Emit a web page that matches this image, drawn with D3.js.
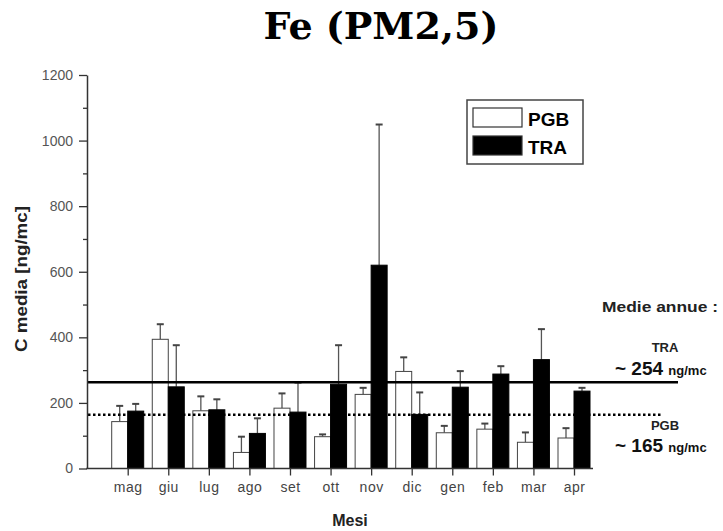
<!DOCTYPE html>
<html>
<head>
<meta charset="utf-8">
<script src="https://cdn.jsdelivr.net/npm/d3@7.9.0/dist/d3.min.js"></script>
<style>
  body { margin: 0; background: #fff; }
  svg { display: block; font-family: "Liberation Sans", Arial, sans-serif; }
</style>
</head>
<body>
<svg id="chart" width="723" height="531"></svg>
<script>
// months and mean concentrations (ng/mc)
const months = ['mag', 'giu', 'lug', 'ago', 'set', 'ott', 'nov', 'dic', 'gen', 'feb', 'mar', 'apr'];
const pgb = [143, 394, 176, 49, 184, 97, 226, 296, 109, 120, 80, 93];
const pgbTop = [191, 440, 220, 97, 229, 104, 246, 339, 130, 137, 110, 123];
const tra = [175, 249, 179, 107, 172, 257, 620, 165, 248, 288, 332, 236];
const traTop = [197, 376, 211, 153, 262, 376, 1049, 232, 297, 312, 425, 246];
// yearly means, as drawn
const annualTRA = 263;
const annualPGB = 164;
const yTicks = [0, 200, 400, 600, 800, 1000, 1200];

const svg = d3.select('#chart');

const x = d3.scalePoint().domain(months).range([127.7, 574]);
const y = d3.scaleLinear().domain([0, 1200]).range([468.5, 75]);
const barW = 16;

// title
svg.append('text')
  .attr('x', 381).attr('y', 39)
  .attr('text-anchor', 'middle')
  .style('font-family', '"DejaVu Serif", serif')
  .style('font-weight', 'bold')
  .style('font-size', '38px')
  .text('Fe (PM2,5)');

// bars
const rows = months.map((m, i) => ({ m, pgb: pgb[i], pgbTop: pgbTop[i], tra: tra[i], traTop: traTop[i] }));

const g = svg.append('g');

// error bars first (up only)
function errBar(xc, v, top) {
  g.append('line')
    .attr('x1', xc).attr('x2', xc)
    .attr('y1', y(v)).attr('y2', y(top))
    .attr('stroke', '#555').attr('stroke-width', 1.3);
  g.append('line')
    .attr('x1', xc - 3.5).attr('x2', xc + 3.5)
    .attr('y1', y(top)).attr('y2', y(top))
    .attr('stroke', '#444').attr('stroke-width', 2);
}
rows.forEach(d => {
  errBar(x(d.m) - barW / 2, d.pgb, d.pgbTop);
  errBar(x(d.m) + barW / 2, d.tra, d.traTop);
});

g.selectAll('rect.pgb')
  .data(rows).join('rect')
  .attr('class', 'pgb')
  .attr('x', d => x(d.m) - barW)
  .attr('y', d => y(d.pgb))
  .attr('width', barW)
  .attr('height', d => y(0) - y(d.pgb))
  .attr('fill', '#fff')
  .attr('stroke', '#444').attr('stroke-width', 1);

g.selectAll('rect.tra')
  .data(rows).join('rect')
  .attr('class', 'tra')
  .attr('x', d => x(d.m))
  .attr('y', d => y(d.tra))
  .attr('width', barW)
  .attr('height', d => y(0) - y(d.tra))
  .attr('fill', '#000')
  .attr('stroke', '#000').attr('stroke-width', 1);

// annual mean lines
svg.append('line')
  .attr('x1', 87).attr('x2', 678)
  .attr('y1', y(annualTRA)).attr('y2', y(annualTRA))
  .attr('stroke', '#000').attr('stroke-width', 2.5);
svg.append('line')
  .attr('x1', 88).attr('x2', 661)
  .attr('y1', y(annualPGB)).attr('y2', y(annualPGB))
  .attr('stroke', '#000').attr('stroke-width', 2.5)
  .attr('stroke-dasharray', '2.5,2.5');

// y axis
const yAxis = svg.append('g')
  .attr('transform', 'translate(87,0)')
  .call(d3.axisLeft(y).tickValues(yTicks).tickFormat(d3.format('d'))
    .tickSize(8).tickSizeOuter(0).tickPadding(6));
yAxis.select('.domain').attr('stroke', '#333').attr('stroke-width', 1.5);
yAxis.selectAll('.tick line').attr('stroke', '#333').attr('stroke-width', 1.3);
yAxis.selectAll('.tick text')
  .attr('fill', '#555')
  .style('font-size', '14px')
  .style('font-family', '"Liberation Sans", Arial, sans-serif');

const yMinor = svg.append('g')
  .attr('transform', 'translate(87,0)')
  .call(d3.axisLeft(y).tickValues(d3.range(100, 1200, 200)).tickSize(4).tickFormat(''));
yMinor.select('.domain').remove();
yMinor.selectAll('.tick line').attr('stroke', '#333').attr('stroke-width', 1.3);

// x axis
svg.append('line')
  .attr('x1', 86.3).attr('x2', 593)
  .attr('y1', y(0)).attr('y2', y(0))
  .attr('stroke', '#333').attr('stroke-width', 1.5);
const xAxis = svg.append('g')
  .attr('transform', `translate(0,${y(0)})`)
  .call(d3.axisBottom(x).tickSize(7).tickPadding(7));
xAxis.select('.domain').remove();
xAxis.selectAll('.tick line').attr('stroke', '#333').attr('stroke-width', 1.3);
xAxis.selectAll('.tick text')
  .attr('fill', '#444')
  .style('font-size', '14px')
  .style('letter-spacing', '0.5px')
  .style('font-family', '"Liberation Sans", Arial, sans-serif');

// axis titles
svg.append('text')
  .attr('x', 350).attr('y', 526)
  .attr('text-anchor', 'middle')
  .style('font-weight', 'bold').style('font-size', '16px')
  .attr('fill', '#222')
  .text('Mesi');

svg.append('text')
  .attr('transform', 'translate(27,279) rotate(-90)')
  .attr('text-anchor', 'middle')
  .style('font-weight', 'bold').style('font-size', '16px')
  .attr('textLength', 146).attr('lengthAdjust', 'spacingAndGlyphs')
  .attr('fill', '#222')
  .text('C media [ng/mc]');

// legend
const legend = svg.append('g');
legend.append('rect')
  .attr('x', 467).attr('y', 100).attr('width', 116).attr('height', 64)
  .attr('fill', '#fff').attr('stroke', '#444').attr('stroke-width', 1.5);
const legendItems = [{ name: 'PGB', fill: '#fff' }, { name: 'TRA', fill: '#000' }];
legendItems.forEach((d, i) => {
  legend.append('rect')
    .attr('x', 473).attr('y', 108 + i * 28).attr('width', 49).attr('height', 19)
    .attr('fill', d.fill).attr('stroke', '#333').attr('stroke-width', 1.2);
  legend.append('text')
    .attr('x', 528).attr('y', 125.5 + i * 28)
    .style('font-weight', 'bold').style('font-size', '19px')
    .text(d.name);
});

// annual means annotation
svg.append('text')
  .attr('x', 602).attr('y', 311.5)
  .style('font-weight', 'bold').style('font-size', '15px')
  .attr('textLength', 116).attr('lengthAdjust', 'spacingAndGlyphs')
  .attr('fill', '#222')
  .text('Medie annue :');

function meanLabel(name, val, yName, yVal) {
  svg.append('text')
    .attr('x', 665).attr('y', yName)
    .attr('text-anchor', 'middle')
    .style('font-weight', 'bold').style('font-size', '13px')
    .attr('fill', '#222')
    .text(name);
  const t = svg.append('text')
    .attr('x', 615).attr('y', yVal)
    .attr('fill', '#111');
  t.append('tspan')
    .style('font-size', '19px')
    .style('font-weight', 'bold')
    .text('~ ' + val + ' ');
  t.append('tspan')
    .style('font-size', '13px').style('font-weight', 'bold')
    .text('ng/mc');
}
meanLabel('TRA', 254, 351.5, 374.5);
meanLabel('PGB', 165, 429.5, 451.5);
</script>
</body>
</html>
